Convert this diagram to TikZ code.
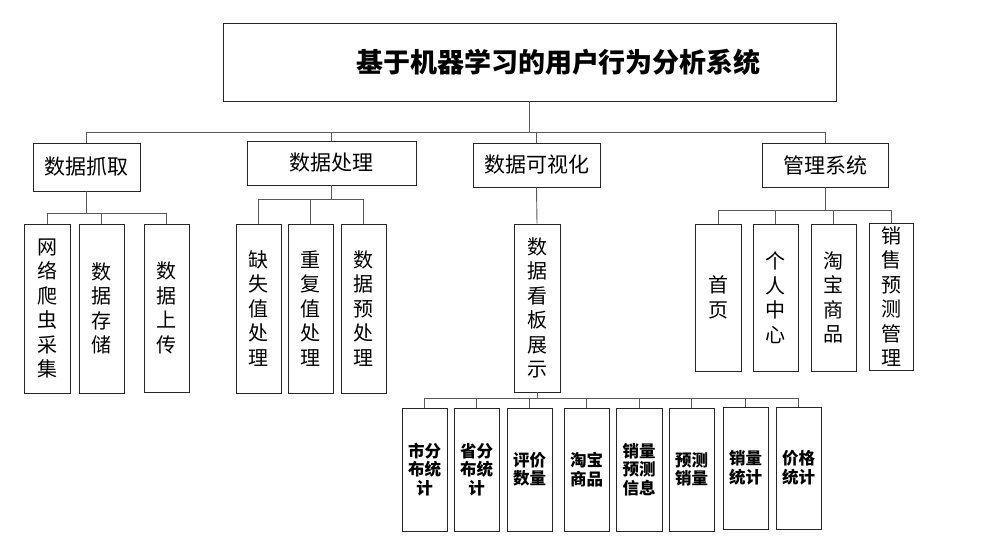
\documentclass[tikz,border=0pt]{standalone}
\usepackage{fontspec}
\setmainfont{Noto Sans CJK SC}
\begin{document}
\begin{tikzpicture}[x=1pt,y=1pt,
  box/.style={draw=black!85,line width=0.9pt,inner sep=0pt,align=center},
  vbox/.style={box,font={\fontsize{20}{24.5}\selectfont}},
  sbox/.style={box,font={\fontsize{16.5}{18.5}\selectfont\bfseries}},
  lbox/.style={box,font={\fontsize{21}{24}\selectfont}},
  link/.style={draw=black!65,line width=0.9pt},
  elbow/.style={to path={-- ++(0,-#1) -| (\tikztotarget)}}]
\useasboundingbox (0,0) rectangle (997,-556);
% title
\node[box,minimum width=613,minimum height=78,font={\fontsize{27}{30}\selectfont\bfseries}] (T) at (529.5,-62) {\hspace*{58pt}基于机器学习的用户行为分析系统};
% level 2
\node[lbox,minimum width=107,minimum height=48] (L1) at (86.5,-167) {数据抓取};
\node[lbox,minimum width=169,minimum height=44] (L2) at (331.5,-163) {数据处理};
\node[lbox,minimum width=127,minimum height=44] (L3) at (536.5,-165) {数据可视化};
\node[lbox,minimum width=126,minimum height=44] (L4) at (825,-165) {管理系统};
% level 3 under L1
\node[vbox,minimum width=46,minimum height=169] (A1) at (47,-308.5) {网\\络\\爬\\虫\\采\\集};
\node[vbox,minimum width=45,minimum height=169] (A2) at (101.5,-308.5) {数\\据\\存\\储};
\node[vbox,minimum width=45,minimum height=168] (A3) at (166.5,-308) {数\\据\\上\\传};
% under L2
\node[vbox,minimum width=45,minimum height=169] (B1) at (258.5,-308.5) {缺\\失\\值\\处\\理};
\node[vbox,minimum width=45,minimum height=169] (B2) at (310.5,-308.5) {重\\复\\值\\处\\理};
\node[vbox,minimum width=45,minimum height=169] (B3) at (363.5,-308.5) {数\\据\\预\\处\\理};
% under L3
\node[vbox,minimum width=46,minimum height=168] (C1) at (537,-308) {数\\据\\看\\板\\展\\示};
% under L4
\node[vbox,minimum width=46,minimum height=147] (D1) at (718,-297.5) {首\\页};
\node[vbox,minimum width=45,minimum height=147] (D2) at (775.5,-297.5) {个\\人\\中\\心};
\node[vbox,minimum width=45,minimum height=147] (D3) at (833.5,-297.5) {淘\\宝\\商\\品};
\node[vbox,minimum width=44,minimum height=147] (D4) at (891,-296.5) {销\\售\\预\\测\\管\\理};
% bottom row
\node[sbox,minimum width=45,minimum height=123] (E1) at (424.5,-469.5) {市分\\布统\\计};
\node[sbox,minimum width=45,minimum height=123] (E2) at (476.5,-469.5) {省分\\布统\\计};
\node[sbox,minimum width=45,minimum height=123] (E3) at (529.5,-469.5) {评价\\数量};
\node[sbox,minimum width=45,minimum height=123] (E4) at (586.5,-469.5) {淘宝\\商品};
\node[sbox,minimum width=46,minimum height=123] (E5) at (639,-469.5) {销量\\预测\\信息};
\node[sbox,minimum width=45,minimum height=123] (E6) at (691.5,-469.5) {预测\\销量};
\node[sbox,minimum width=45,minimum height=122] (E7) at (745.5,-468) {销量\\统计};
\node[sbox,minimum width=45,minimum height=122] (E8) at (798.5,-468) {价格\\统计};
% connectors
\foreach \c in {L1,L2,L3,L4} \draw[link] (T.south) to[elbow=31] (\c.north);
\foreach \c in {A1,A2,A3} \draw[link] (L1.south) to[elbow=22] (\c.north);
\foreach \c in {B1,B2,B3} \draw[link] (L2.south) to[elbow=14] (\c.north);
\draw[link] (L3.south) -- (C1.north);
\foreach \c in {D1,D2,D3,D4} \draw[link] (L4.south) to[elbow=23] (\c.north);
\foreach \c in {E1,E2,E3,E4,E5,E6,E7,E8} \draw[link] (C1.south) to[elbow=6] (\c.north);
\end{tikzpicture}
\end{document}
